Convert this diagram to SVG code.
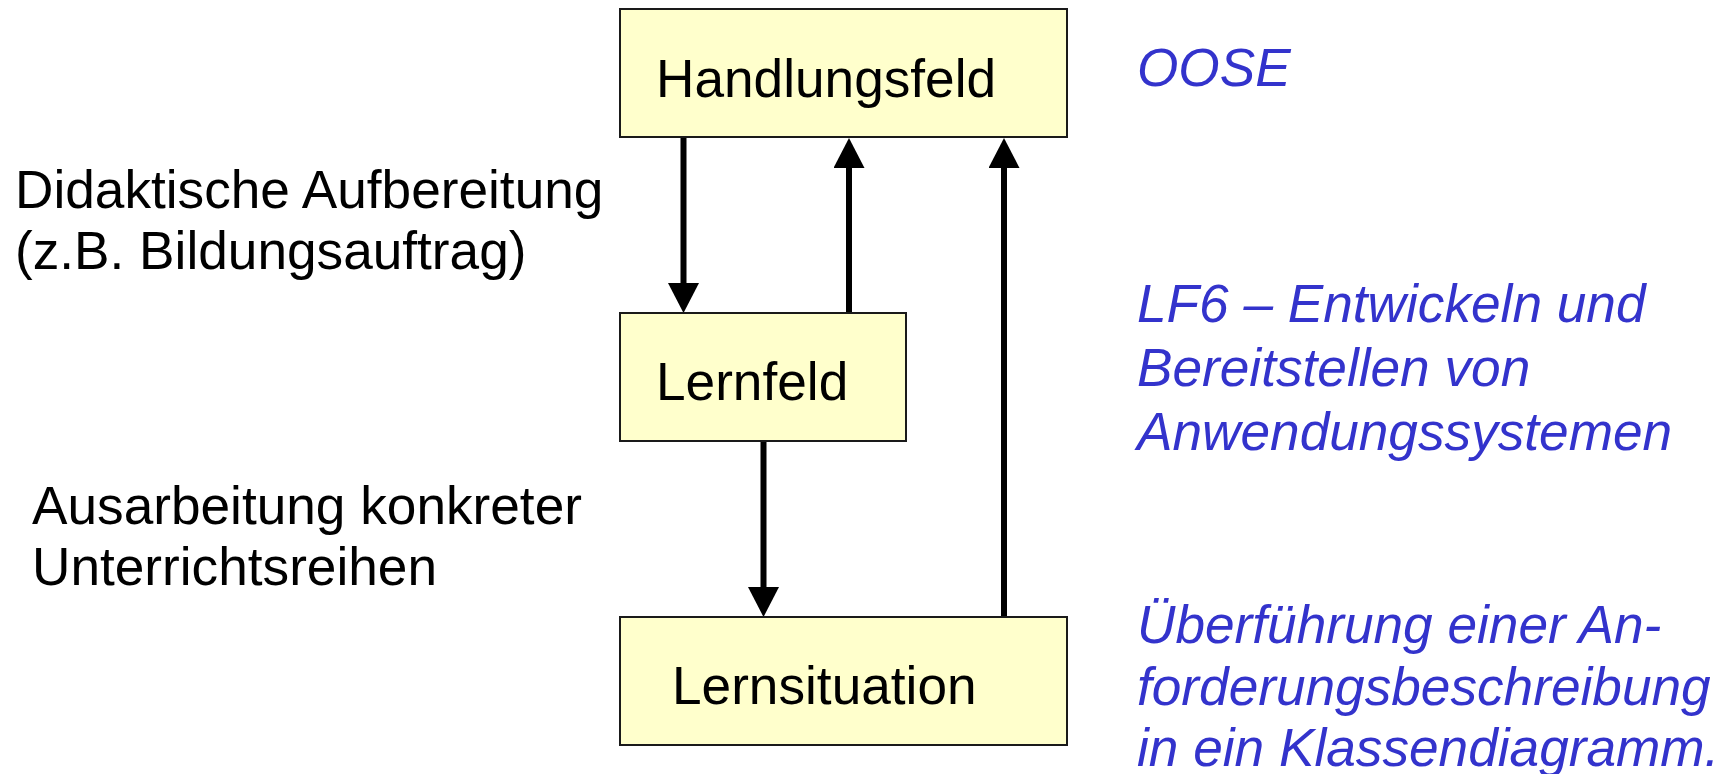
<svg xmlns="http://www.w3.org/2000/svg" width="1728" height="774" viewBox="0 0 1728 774">
  <style>
    .box { fill: #FFFFCC; stroke: #1a1a1a; stroke-width: 2; }
    .label { font-family: "Liberation Sans", Arial, sans-serif; font-size: 53.2px; fill: #000000; }
    .note { font-family: "Liberation Sans", Arial, sans-serif; font-size: 53.2px; fill: #000000; }
    .topic { font-family: "Liberation Sans", Arial, sans-serif; font-size: 53.2px; font-style: italic; fill: #3333CC; }
    .flow { stroke: #000000; stroke-width: 6; fill: none; marker-end: url(#head); }
  </style>
  <defs>
    <marker id="head" markerUnits="userSpaceOnUse" markerWidth="31" markerHeight="31" viewBox="0 0 30 31" refX="10" refY="15.5" orient="auto">
      <path d="M0,0 L30,15.5 L0,31 Z" fill="#000000"/>
    </marker>
  </defs>

  <rect width="1728" height="774" fill="#ffffff"/>

  <!-- connectors -->
  <g id="connectors">
    <line class="flow" x1="683.5" y1="137" x2="683.5" y2="293"/>
    <line class="flow" x1="849" y1="313" x2="849" y2="158"/>
    <line class="flow" x1="763.5" y1="441" x2="763.5" y2="597"/>
    <line class="flow" x1="1004" y1="617" x2="1004" y2="158"/>
  </g>

  <!-- nodes -->
  <g id="handlungsfeld">
    <rect class="box" x="620" y="9" width="447" height="128"/>
    <text class="label" x="656" y="97">Handlungsfeld</text>
  </g>
  <g id="lernfeld">
    <rect class="box" x="620" y="313" width="286" height="128"/>
    <text class="label" x="656" y="400">Lernfeld</text>
  </g>
  <g id="lernsituation">
    <rect class="box" x="620" y="617" width="447" height="128"/>
    <text class="label" x="672" y="704">Lernsituation</text>
  </g>

  <!-- side notes -->
  <g id="note-didaktik">
    <text class="note" x="15" y="208">Didaktische Aufbereitung</text>
    <text class="note" x="15" y="269">(z.B. Bildungsauftrag)</text>
  </g>
  <g id="note-ausarbeitung">
    <text class="note" x="32" y="524">Ausarbeitung konkreter</text>
    <text class="note" x="32" y="585">Unterrichtsreihen</text>
  </g>
  <g id="topic-oose">
    <text class="topic" x="1137" y="86">OOSE</text>
  </g>
  <g id="topic-lf6">
    <text class="topic" x="1137" y="322">LF6 – Entwickeln und</text>
    <text class="topic" x="1137" y="386">Bereitstellen von</text>
    <text class="topic" x="1137" y="450">Anwendungssystemen</text>
  </g>
  <g id="topic-klassendiagramm">
    <text class="topic" x="1137" y="643">Überführung einer An-</text>
    <text class="topic" x="1137" y="705">forderungsbeschreibung</text>
    <text class="topic" x="1137" y="766">in ein Klassendiagramm.</text>
  </g>
</svg>
